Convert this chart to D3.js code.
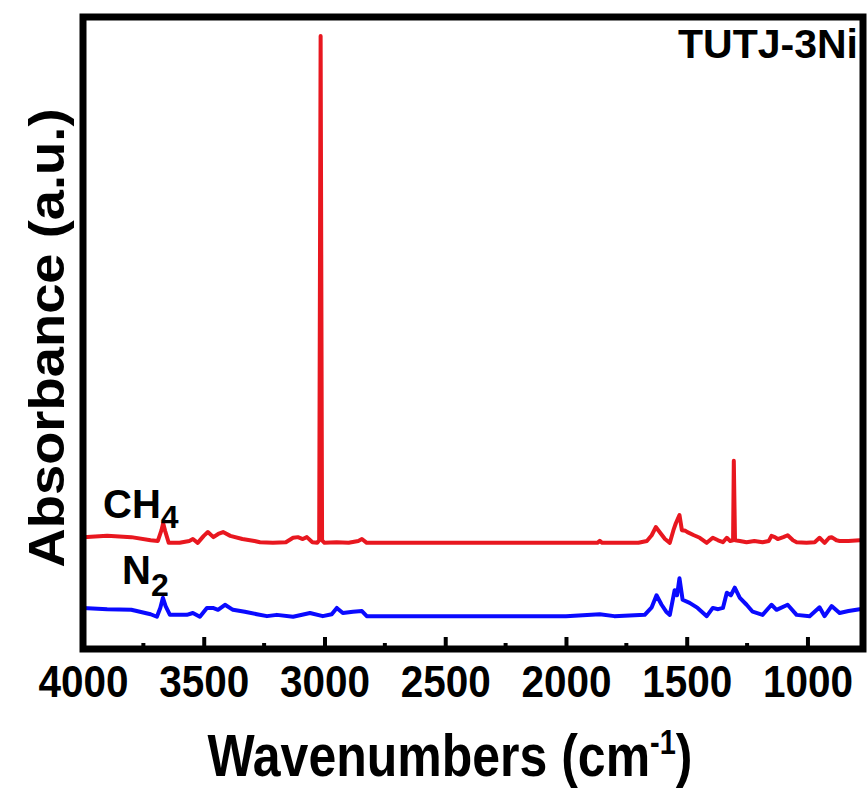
<!DOCTYPE html>
<html>
<head>
<meta charset="utf-8">
<script src="https://cdn.jsdelivr.net/npm/d3@7"></script>
<style>
  body { margin: 0; background: #fff; }
  text { font-family: "Liberation Sans", Arial, sans-serif; font-weight: bold; fill: #000; }
</style>
</head>
<body>
<div id="chart"></div>
<script>
// spectra: wavenumber (cm-1) and absorbance (a.u., 0-100 of frame height)
var ch4Wave = [4000, 3900, 3800, 3720, 3690, 3675, 3668, 3660, 3645, 3600, 3560, 3545, 3525, 3500, 3483, 3460, 3440, 3420, 3390, 3340, 3290, 3267, 3214, 3160, 3130, 3110, 3090, 3073, 3050, 3030, 3022, 3016, 3010, 3000, 2950, 2900, 2860, 2845, 2825, 2600, 2200, 1870, 1860, 1850, 1700, 1665, 1645, 1628, 1610, 1590, 1570, 1555, 1545, 1530, 1520, 1505, 1497, 1470, 1446, 1417, 1392, 1370, 1350, 1334, 1320, 1308, 1305, 1300, 1280, 1252, 1220, 1186, 1160, 1149, 1135, 1123, 1100, 1082, 1060, 1045, 1004, 970, 950, 929, 910, 900, 880, 867, 830, 784, 770];
var ch4Abs = [17.7, 17.9, 17.7, 17.2, 17.1, 18.8, 19.9, 18.7, 16.8, 16.8, 17.1, 17.4, 16.8, 17.9, 18.5, 17.7, 18.2, 18.5, 17.9, 17.4, 17.1, 16.9, 16.8, 16.9, 17.6, 17.7, 17.4, 17.7, 16.9, 16.8, 17.2, 97.0, 17.2, 16.8, 16.9, 16.8, 17.1, 17.4, 16.8, 16.8, 16.8, 16.8, 17.1, 16.8, 16.8, 17.1, 18.0, 19.3, 18.4, 17.4, 16.8, 18.8, 19.9, 21.2, 18.8, 18.7, 18.5, 18.0, 17.6, 16.8, 17.6, 17.2, 16.9, 17.6, 17.1, 17.2, 29.8, 17.2, 17.1, 16.9, 17.1, 16.9, 17.1, 17.9, 17.7, 17.4, 17.7, 18.0, 17.2, 16.9, 16.8, 16.9, 17.6, 16.8, 17.6, 17.7, 17.2, 17.1, 17.1, 17.2, 17.2];

var n2Wave = [4000, 3900, 3800, 3720, 3694, 3680, 3669, 3658, 3640, 3600, 3570, 3545, 3516, 3487, 3462, 3441, 3412, 3379, 3330, 3280, 3238, 3197, 3130, 3060, 3007, 2970, 2949, 2924, 2882, 2845, 2825, 2717, 2400, 2000, 1860, 1800, 1674, 1645, 1625, 1604, 1585, 1570, 1550, 1540, 1530, 1517, 1488, 1455, 1417, 1392, 1370, 1350, 1334, 1317, 1301, 1280, 1252, 1227, 1186, 1149, 1128, 1082, 1045, 991, 950, 929, 900, 867, 830, 784, 770];
var n2Abs = [6.5, 6.3, 6.2, 5.5, 5.1, 6.5, 8.1, 6.8, 5.4, 5.4, 5.4, 5.7, 5.1, 6.5, 6.5, 6.2, 7.0, 6.2, 5.9, 5.5, 5.2, 5.4, 5.1, 5.7, 5.2, 5.5, 6.5, 5.7, 5.9, 6.0, 5.2, 5.2, 5.2, 5.2, 5.5, 5.2, 5.4, 6.6, 8.5, 7.0, 5.9, 5.4, 9.3, 8.5, 11.2, 7.8, 7.3, 6.5, 5.2, 6.5, 6.3, 6.5, 8.9, 8.5, 9.7, 8.1, 7.0, 5.9, 5.4, 7.0, 6.2, 7.0, 5.4, 5.2, 6.6, 5.2, 6.8, 5.7, 6.0, 6.3, 6.3];

var xTicks = [4000, 3500, 3000, 2500, 2000, 1500, 1000];
var xMinorTicks = [3750, 3250, 2750, 2250, 1750, 1250];

var W = 867, H = 788;
var margin = { left: 83, right: 863, top: 17, bottom: 649 };

var svg = d3.select("#chart").append("svg")
  .attr("width", W)
  .attr("height", H);

var x = d3.scaleLinear().domain([4000, 770]).range([margin.left, margin.right]);
var y = d3.scaleLinear().domain([0, 100]).range([margin.bottom, margin.top]);

svg.append("clipPath").attr("id", "plot")
  .append("rect")
  .attr("x", margin.left).attr("y", margin.top)
  .attr("width", margin.right - margin.left)
  .attr("height", margin.bottom - margin.top);

var line = d3.line()
  .x(function (d) { return x(d[0]); })
  .y(function (d) { return y(d[1]); })
  .curve(d3.curveLinear);

function drawSpectrum(waves, values, color) {
  svg.append("path")
    .datum(d3.zip(waves, values))
    .attr("clip-path", "url(#plot)")
    .attr("fill", "none")
    .attr("stroke", color)
    .attr("stroke-width", 4)
    .attr("stroke-linejoin", "round")
    .attr("d", line);
}

drawSpectrum(n2Wave, n2Abs, "#0a0aff");
drawSpectrum(ch4Wave, ch4Abs, "#e8171f");

// bottom axis: ticks inside, labels below
var xAxis = d3.axisBottom(x)
  .tickValues(xTicks)
  .tickSize(-12)
  .tickPadding(16)
  .tickFormat(d3.format("d"));

var gx = svg.append("g")
  .attr("transform", "translate(0," + margin.bottom + ")")
  .call(xAxis);
gx.select(".domain").remove();
gx.selectAll(".tick line").attr("stroke-width", 4);
gx.selectAll(".tick text")
  .style("font-size", "45px")
  .attr("textLength", 90)
  .attr("lengthAdjust", "spacingAndGlyphs");

svg.append("g")
  .selectAll("line")
  .data(xMinorTicks)
  .enter()
  .append("line")
  .attr("x1", function (d) { return x(d); })
  .attr("x2", function (d) { return x(d); })
  .attr("y1", margin.bottom)
  .attr("y2", margin.bottom - 6)
  .attr("stroke", "#000")
  .attr("stroke-width", 4);

// frame
svg.append("rect")
  .attr("x", margin.left).attr("y", margin.top)
  .attr("width", margin.right - margin.left)
  .attr("height", margin.bottom - margin.top)
  .attr("fill", "none")
  .attr("stroke", "#000")
  .attr("stroke-width", 7);

// labels
svg.append("text")
  .attr("x", 858).attr("y", 58)
  .attr("text-anchor", "end")
  .style("font-size", "41px")
  .text("TUTJ-3Ni");

var ch4 = svg.append("text")
  .attr("x", 103).attr("y", 518)
  .style("font-size", "40px");
ch4.append("tspan").text("CH");
ch4.append("tspan").attr("dy", 10).style("font-size", "32px").text("4");

var n2 = svg.append("text")
  .attr("x", 122).attr("y", 584)
  .style("font-size", "40px");
n2.append("tspan").text("N");
n2.append("tspan").attr("dy", 12).style("font-size", "32px").text("2");

var xl = svg.append("text")
  .attr("transform", "translate(450,776) scale(1,1.18)")
  .attr("text-anchor", "middle")
  .style("font-size", "50px");
xl.append("tspan").text("Wavenumbers (cm");
xl.append("tspan").attr("dy", -19).style("font-size", "29px").text("-1");
xl.append("tspan").attr("dy", 19).text(")");

svg.append("text")
  .attr("transform", "translate(64,338) rotate(-90)")
  .attr("text-anchor", "middle")
  .style("font-size", "50px")
  .attr("textLength", 459)
  .attr("lengthAdjust", "spacingAndGlyphs")
  .text("Absorbance (a.u.)");
</script>
</body>
</html>
